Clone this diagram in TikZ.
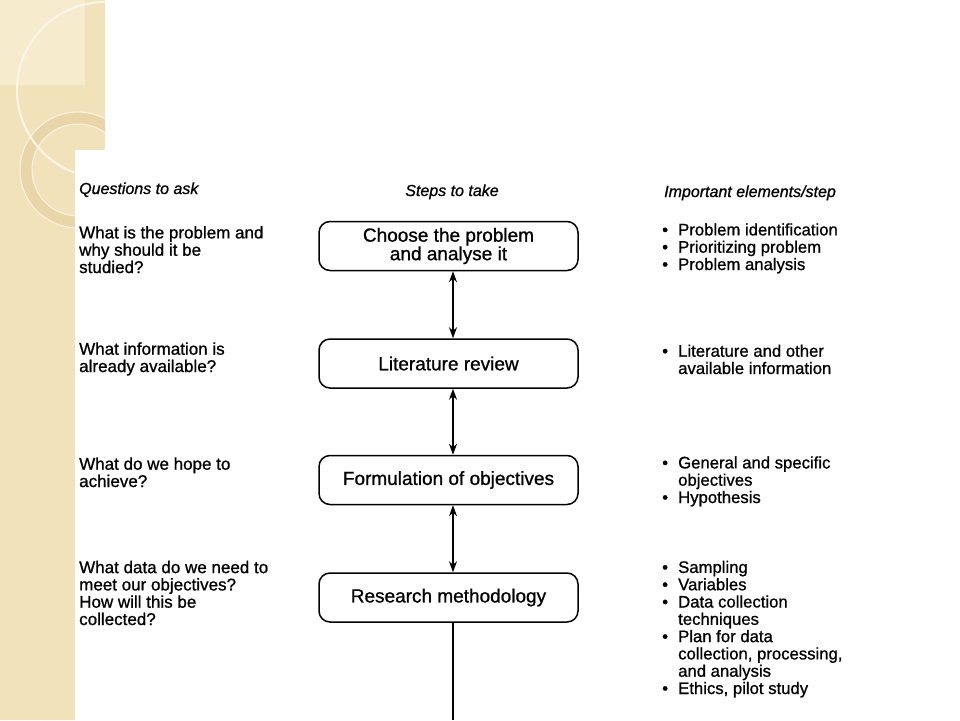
\documentclass[tikz,border=0pt]{standalone}
\usepackage{fontspec}
\setmainfont{Liberation Sans}[FakeBold=0.9]
\usetikzlibrary{arrows.meta, positioning}

\definecolor{strip}{HTML}{F2E2B9}
\definecolor{stripLight}{HTML}{F6EBCD}
\definecolor{ringFill}{HTML}{E8D5A8}

\newcommand{\bul}{\makebox[16pt][l]{\textbullet}}
\newcommand{\ind}{\hspace*{16pt}}

\begin{document}
\begin{tikzpicture}[
    x=1pt, y=-1pt,
    font=\fontsize{17}{17.3}\selectfont,
    node distance=67pt,
    stepbox/.style={draw, line width=1.5pt, rounded corners=11pt, align=center,
        minimum width=259pt, minimum height=49pt,
        font=\fontsize{19}{18.5}\selectfont},
    head/.style={inner sep=0pt, anchor=base west, font=\fontsize{16}{17}\selectfont\itshape},
    ask/.style={inner sep=0pt, anchor=base west, align=left},
    elem/.style={ask, font=\fontsize{16.7}{17.3}\selectfont},
    line/.style={{Stealth[length=11pt,width=8pt]}-{Stealth[length=11pt,width=8pt]}, line width=1.5pt}
]
% slide background
\fill[white] (0,0) rectangle (960,720);
\fill[strip] (0,0) rectangle (105,720);
\fill[stripLight] (0,0) rectangle (85,85);
\begin{scope}
    \clip (0,0) rectangle (105,720);
    \draw[ringFill, line width=12pt] (78,170) circle (52);
    \draw[white!65!strip, line width=1pt] (78,170) circle (58) (78,170) circle (46);
    \draw[white!70!strip, line width=2pt] (105,90) circle (88);
\end{scope}
\fill[white] (75,150) rectangle (960,720);
\useasboundingbox (0,0) rectangle (960,720);

% column heads
\node[head] (hask) at (79,194) {Questions to ask};
\node[head, anchor=base] (hsteps) at (452,196) {Steps to take};
\node[head] (helem) at (664,197) {Important elements/step};

% steps
\node[stepbox] (choose) at (448.5,246) {Choose the problem\\and analyse it};
\node[stepbox, below=of choose] (review) {Literature review};
\node[stepbox, below=66pt of review] (objectives) {Formulation of objectives};
\node[stepbox, below=of objectives] (method) {Research methodology};
\coordinate (pagefoot) at (453,720);

\draw[line] ([xshift=4.5pt]choose.south) -- ([xshift=4.5pt]review.north);
\draw[line] ([xshift=4.5pt]review.south) -- ([xshift=4.5pt]objectives.north);
\draw[line] ([xshift=4.5pt]objectives.south) -- ([xshift=4.5pt]method.north);
\draw[line, {-}] (pagefoot) -- ([xshift=4.5pt]method.south);

% questions (anchored at the last line)
\node[ask] (q1) at (79,273) {What is the problem and\\why should it be\\studied?};
\node[ask] (q2) at (79,372) {What information is\\already available?};
\node[ask] (q3) at (79,487) {What do we hope to\\achieve?};
\node[ask] (q4) at (79,625) {What data do we need to\\meet our objectives?\\How will this be\\collected?};

% elements (anchored at the last line)
\node[elem] (e1) at (662,270) {\bul Problem identification\\\bul Prioritizing problem\\\bul Problem analysis};
\node[elem] (e2) at (662,374) {\bul Literature and other\\\ind available information};
\node[elem] (e3) at (662,503) {\bul General and specific\\\ind objectives\\\bul Hypothesis};
\node[elem] (e4) at (662,694) {\bul Sampling\\\bul Variables\\\bul Data collection\\\ind techniques\\\bul Plan for data\\\ind collection, processing,\\\ind and analysis\\\bul Ethics, pilot study};
\end{tikzpicture}
\end{document}
